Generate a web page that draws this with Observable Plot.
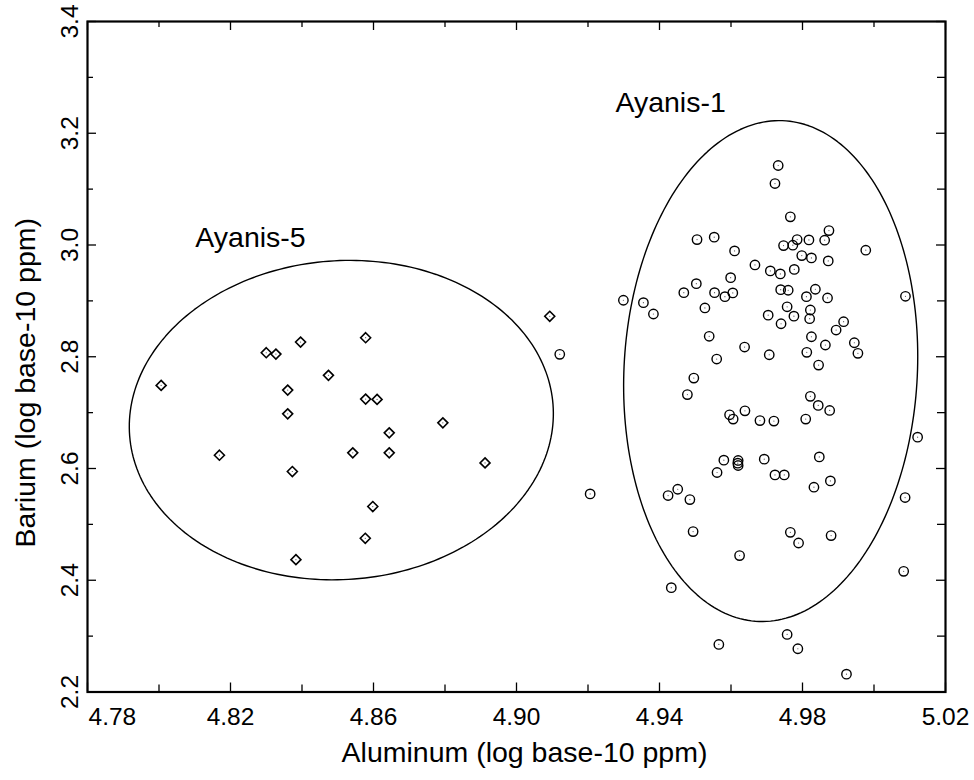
<!DOCTYPE html>
<html><head><meta charset="utf-8">
<script src="https://cdn.jsdelivr.net/npm/d3@7"></script>
<script src="https://cdn.jsdelivr.net/npm/@observablehq/plot@0.6"></script>
<style>body{margin:0;background:#fff}</style>
</head><body><div id="chart"></div>
<script>
// Ayanis-5 (diamonds)
const ayanis5Al = [4.8006, 4.8169, 4.8300, 4.8327, 4.8396, 4.8360, 4.8360, 4.8373, 4.8383, 4.8474, 4.8578, 4.8578, 4.8610, 4.8644, 4.8644, 4.8542, 4.8598, 4.8577, 4.8794, 4.8912, 4.9093];
const ayanis5Ba = [2.7487, 2.6238, 2.8072, 2.8048, 2.8263, 2.7403, 2.6978, 2.5946, 2.4369, 2.7667, 2.8341, 2.7242, 2.7237, 2.6638, 2.6280, 2.6280, 2.5319, 2.4751, 2.6817, 2.6100, 2.8724];

// Ayanis-1 (circles)
const ayanis1Al = [
  4.9732, 4.9723, 4.9766, 4.9874, 4.9505, 4.9553, 4.9785, 4.9818, 4.9862, 4.9610,
  4.9747, 4.9773, 4.9977, 4.9798, 4.9825, 4.9872, 4.9667, 4.9710, 4.9738, 4.9777,
  4.9599, 4.9503, 4.9468, 4.9554, 4.9583, 4.9605, 4.9739, 4.9760, 4.9836, 4.9811,
  4.9870, 5.0088, 4.9757, 4.9776, 4.9704, 4.9740, 4.9822, 4.9820, 4.9915, 4.9894,
  4.9299, 4.9355, 4.9383, 4.9527, 4.9539, 4.9638, 4.9707, 4.9560, 4.9825, 4.9864,
  4.9945, 4.9955, 4.9812, 4.9845, 4.9496, 4.9478, 4.9822, 4.9844, 4.9876, 4.9596,
  4.9606, 4.9639, 4.9681, 4.9720, 4.9809, 5.0122, 4.9847, 4.9580, 4.9620, 4.9619,
  4.9620, 4.9561, 4.9693, 4.9723, 4.9749, 4.9878, 4.9832, 5.0087, 4.9451, 4.9424,
  4.9485, 4.9494, 4.9766, 4.9789, 4.9880, 4.9624, 5.0083, 4.9433, 4.9566, 4.9757,
  4.9787, 4.9923, 4.9121, 4.9206];
const ayanis1Ba = [
  3.1423, 3.1100, 3.0504, 3.0258, 3.0097, 3.0140, 3.0097, 3.0091, 3.0086, 2.9894,
  2.9989, 2.9996, 2.9907, 2.9810, 2.9769, 2.9715, 2.9643, 2.9536, 2.9482, 2.9563,
  2.9416, 2.9308, 2.9147, 2.9147, 2.9075, 2.9142, 2.9201, 2.9190, 2.9208, 2.9075,
  2.9052, 2.9082, 2.8894, 2.8726, 2.8744, 2.8591, 2.8837, 2.8681, 2.8627, 2.8478,
  2.9011, 2.8968, 2.8765, 2.8873, 2.8366, 2.8174, 2.8036, 2.7959, 2.8358, 2.8210,
  2.8251, 2.8061, 2.8079, 2.7851, 2.7618, 2.7323, 2.7292, 2.7129, 2.7039, 2.6961,
  2.6884, 2.7032, 2.6857, 2.6848, 2.6884, 2.6561, 2.6208, 2.6149, 2.6143, 2.6095,
  2.6054, 2.5928, 2.6167, 2.5885, 2.5885, 2.5778, 2.5665, 2.5480, 2.5629, 2.5516,
  2.5444, 2.4871, 2.4858, 2.4667, 2.4799, 2.4441, 2.4160, 2.3867, 2.2851, 2.3030,
  2.2774, 2.2319, 2.8043, 2.5545];

// Group labels
const groupNames = ["Ayanis-5", "Ayanis-1"];
const groupLabelAl = [4.8256, 4.9431];
const groupLabelBa = [3.0127, 3.2546];

// Ellipses (center and two conjugate semi-axis vectors, data units)
const ellipseCenterAl = [4.8510, 4.9711];
const ellipseCenterBa = [2.6866, 2.7744];
const ellipseAxisAAl = [0.0593, 0.04112];
const ellipseAxisABa = [0.0063, 0.0143];
const ellipseAxisBAl = [0.0011, 0.0011];
const ellipseAxisBBa = [0.2858, 0.4480];

// Axes
const xTicks = [4.78, 4.82, 4.86, 4.90, 4.94, 4.98, 5.02];
const xMinorTicks = [4.80, 4.84, 4.88, 4.92, 4.96, 5.00];
const yTicks = [2.2, 2.4, 2.6, 2.8, 3.0, 3.2, 3.4];
const yMinorTicks = [2.3, 2.5, 2.7, 2.9, 3.1, 3.3];
const xTitle = "Aluminum (log base-10 ppm)";
const yTitle = "Barium (log base-10 ppm)";

const W = 974, H = 780;
const mL = 87, mR = 29, mT = 21, mB = 88.5;
const fw = W - mL - mR, fh = H - mT - mB;

const a5 = ayanis5Al.map((x, i) => ({al: x, ba: ayanis5Ba[i]}));
const a1 = ayanis1Al.map((x, i) => ({al: x, ba: ayanis1Ba[i]}));
const labels = groupNames.map((n, i) => ({name: n, al: groupLabelAl[i], ba: groupLabelBa[i]}));
const ellipsePts = [];
groupNames.forEach((g, k) => {
  const N = 240;
  for (let j = 0; j < N; j++) {
    const t = 2 * Math.PI * j / N;
    ellipsePts.push({
      g,
      al: ellipseCenterAl[k] + ellipseAxisAAl[k] * Math.cos(t) + ellipseAxisBAl[k] * Math.sin(t),
      ba: ellipseCenterBa[k] + ellipseAxisABa[k] * Math.cos(t) + ellipseAxisBBa[k] * Math.sin(t)
    });
  }
});

const font = "'Liberation Sans', Arial, Helvetica, sans-serif";
const tickFont = 24.5;
const titleFont = 28.5;

const chart = Plot.plot({
  width: W, height: H,
  marginLeft: mL, marginRight: mR, marginTop: mT, marginBottom: mB,
  x: {domain: [4.78, 5.02], axis: null},
  y: {domain: [2.2, 3.4], axis: null},
  style: {fontFamily: font, background: "white", color: "black"},
  marks: [
    // inward ticks, bottom & top
    Plot.tickX(xTicks, {x: d => d, insetTop: fh - 9, stroke: "black", strokeWidth: 1.3}),
    Plot.tickX(xMinorTicks, {x: d => d, insetTop: fh - 7, stroke: "black", strokeWidth: 1.3}),
    Plot.tickX(xTicks, {x: d => d, insetBottom: fh - 9, stroke: "black", strokeWidth: 1.3}),
    Plot.tickX(xMinorTicks, {x: d => d, insetBottom: fh - 6, stroke: "black", strokeWidth: 1.3}),
    // inward ticks, left & right
    Plot.tickY(yTicks, {y: d => d, insetRight: fw - 9, stroke: "black", strokeWidth: 1.3}),
    Plot.tickY(yMinorTicks, {y: d => d, insetRight: fw - 6, stroke: "black", strokeWidth: 1.3}),
    Plot.tickY(yTicks, {y: d => d, insetLeft: fw - 9, stroke: "black", strokeWidth: 1.3}),
    Plot.tickY(yMinorTicks, {y: d => d, insetLeft: fw - 8, stroke: "black", strokeWidth: 1.3}),
    Plot.frame({stroke: "black", strokeWidth: 2.2}),
    // tick labels
    Plot.text([xTicks[0]], {x: d => d, frameAnchor: "bottom", dy: 25, dx: 1, lineAnchor: "middle", textAnchor: "start", text: d => d.toFixed(2), fontSize: tickFont, fill: "black"}),
    Plot.text(xTicks.slice(1), {x: d => d, frameAnchor: "bottom", dy: 25, lineAnchor: "middle", textAnchor: "middle", text: d => d.toFixed(2), fontSize: tickFont, fill: "black"}),
    Plot.text(yTicks, {y: d => d, frameAnchor: "left", dx: -17, rotate: -90, lineAnchor: "middle", textAnchor: "middle", text: d => d.toFixed(1), fontSize: tickFont, fill: "black"}),
    // axis titles
    Plot.text([xTitle], {frameAnchor: "bottom", dx: 8, dy: 61, text: d => d, lineAnchor: "middle", textAnchor: "middle", fontSize: titleFont, fill: "black"}),
    Plot.text([yTitle], {frameAnchor: "left", dx: -62, dy: 26, rotate: -90, text: d => d, lineAnchor: "middle", textAnchor: "middle", fontSize: titleFont, fill: "black"}),
    // ellipses
    Plot.line(ellipsePts, {x: "al", y: "ba", z: "g", curve: "linear-closed", stroke: "black", strokeWidth: 1.4}),
    // points
    Plot.dot(a5, {x: "al", y: "ba", symbol: "diamond2", r: 4.5, stroke: "black", strokeWidth: 1.6, fill: "none"}),
    Plot.dot(a1, {x: "al", y: "ba", symbol: "circle", r: 4.7, stroke: "black", strokeWidth: 1.4, fill: "none"}),
    Plot.dot(a5.concat(a1), {x: "al", y: "ba", r: 0.6, fill: "#555", stroke: null}),
    // group labels
    Plot.text(labels, {x: "al", y: "ba", text: "name", fontSize: titleFont, lineAnchor: "middle", textAnchor: "middle", fill: "black"})
  ]
});
document.getElementById("chart").appendChild(chart);
</script>
</body></html>
